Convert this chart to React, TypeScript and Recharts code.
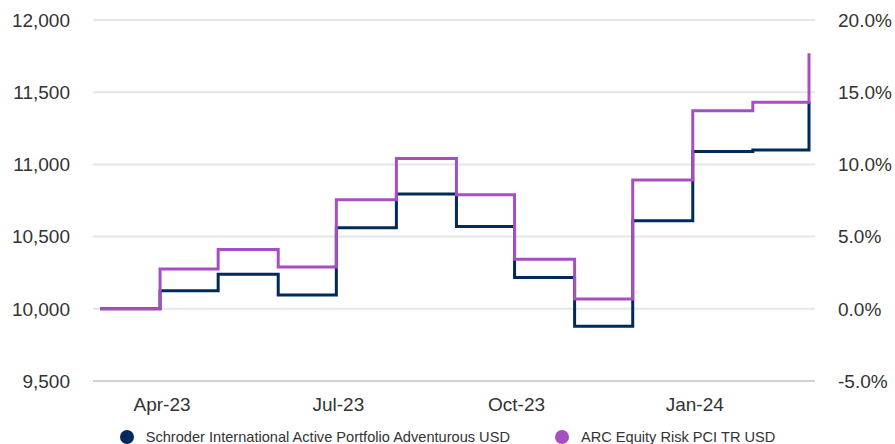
import React from 'react';
import { LineChart, Line, XAxis, YAxis, CartesianGrid, Legend } from 'recharts';

const months = [
  '2023-03-01', '2023-04-01', '2023-05-01', '2023-06-01', '2023-07-01', '2023-08-01', '2023-09-01',
  '2023-10-01', '2023-11-01', '2023-12-01', '2024-01-01', '2024-02-01', '2024-03-01',
];
const schroderValues = [10000, 10125, 10240, 10095, 10562, 10795, 10570, 10216, 9880, 10610, 11090, 11100, 11435];
const arcValues = [10000, 10275, 10410, 10290, 10755, 11040, 10790, 10343, 10068, 10892, 11372, 11430, 11770];

const xTickDates = ['2023-04-01', '2023-07-01', '2023-10-01', '2024-01-01'];
const xTickLabels = ['Apr-23', 'Jul-23', 'Oct-23', 'Jan-24'];
const leftTicks = [9500, 10000, 10500, 11000, 11500, 12000];
const rightTicks = [-5, 0, 5, 10, 15, 20];

const seriesNames = ['Schroder International Active Portfolio Adventurous USD', 'ARC Equity Risk PCI TR USD'];
const seriesColors = ['#002a5c', '#a54fc2'];

const toTs = (d: string) => new Date(d).getTime();

const data = months.map((m, i) => ({
  t: toTs(m),
  schroder: schroderValues[i],
  arc: arcValues[i],
}));

const xTicks = xTickDates.map(toTs);
const labelFor = (v: number) => {
  const idx = xTicks.indexOf(v);
  return idx >= 0 ? xTickLabels[idx] : '';
};

const FONT = '"Liberation Sans", Arial, sans-serif';
const TICK_STYLE = { fill: '#333333', fontSize: 19, fontFamily: FONT };

const LegendContent = () => (
  <div
    style={{
      display: 'flex',
      justifyContent: 'center',
      alignItems: 'center',
      height: 28,
      paddingTop: 14,
      boxSizing: 'border-box',
      fontFamily: FONT,
      fontSize: 14.6,
      color: '#333333',
    }}
  >
    {seriesNames.map((n, i) => (
      <div key={n} style={{ display: 'flex', alignItems: 'center', marginLeft: i === 0 ? 0 : 45 }}>
        <svg width={14} height={14} style={{ marginRight: 12 }}>
          <circle cx={7} cy={7} r={7} fill={seriesColors[i]} />
        </svg>
        <span>{n}</span>
      </div>
    ))}
  </div>
);

export default function App() {
  return (
    <div style={{ position: 'absolute', left: 0, top: 0, width: 895, height: 444, background: '#fff' }}>
      <LineChart width={895} height={444} data={data} margin={{ top: 20, right: 0, bottom: 0, left: 0 }}>
        <CartesianGrid yAxisId="left" vertical={false} stroke="#e6e6e6" strokeWidth={2} />
        <XAxis
          dataKey="t"
          type="number"
          domain={[data[0].t, data[data.length - 1].t]}
          ticks={xTicks}
          tickFormatter={labelFor}
          padding={{ left: 7, right: 6 }}
          height={35}
          tickLine={false}
          tickSize={0}
          tickMargin={17}
          axisLine={{ stroke: '#d2d2d2', strokeWidth: 2 }}
          tick={{ ...TICK_STYLE, dx: 2 }}
          interval={0}
        />
        <YAxis
          yAxisId="left"
          orientation="left"
          width={93}
          domain={[9500, 12000]}
          ticks={leftTicks}
          tickFormatter={(v: number) => v.toLocaleString('en-US')}
          axisLine={false}
          tickLine={false}
          tickSize={0}
          tickMargin={23}
          tick={TICK_STYLE}
          allowDataOverflow
        />
        <YAxis
          yAxisId="right"
          orientation="right"
          width={80}
          domain={[-5, 20]}
          ticks={rightTicks}
          tickFormatter={(v: number) => `${v.toFixed(1)}%`}
          axisLine={false}
          tickLine={false}
          tickSize={0}
          tickMargin={23}
          tick={{ ...TICK_STYLE, textAnchor: 'start' }}
          allowDataOverflow
        />
        <Legend verticalAlign="bottom" height={28} content={<LegendContent />} />
        <Line
          yAxisId="left"
          type="stepAfter"
          dataKey="schroder"
          name={seriesNames[0]}
          stroke={seriesColors[0]}
          strokeWidth={3}
          dot={false}
          isAnimationActive={false}
        />
        <Line
          yAxisId="left"
          type="stepAfter"
          dataKey="arc"
          name={seriesNames[1]}
          stroke={seriesColors[1]}
          strokeWidth={3}
          dot={false}
          isAnimationActive={false}
        />
      </LineChart>
    </div>
  );
}
